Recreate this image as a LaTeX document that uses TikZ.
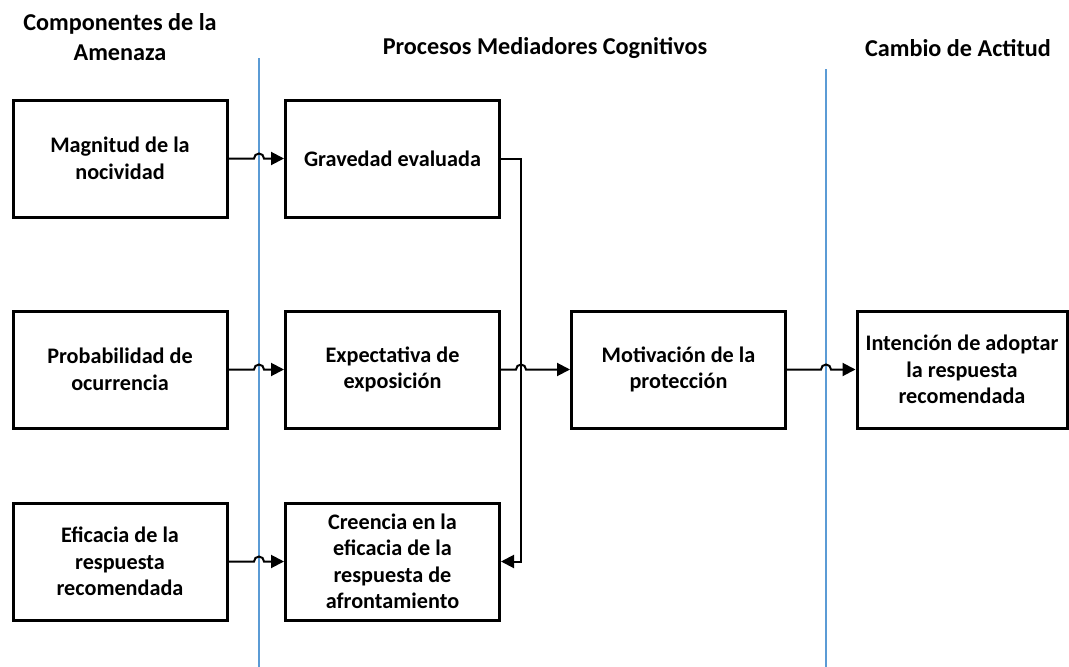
\documentclass[tikz,border=0pt]{standalone}
\usepackage{fontspec}
\setmainfont{Carlito}
\usetikzlibrary{arrows.meta,calc}
\begin{document}
\begin{tikzpicture}[x=1pt,y=-1pt,
  box/.style={draw=black,line width=3pt,minimum width=214pt,minimum height=117pt,inner sep=0pt,
    align=center,font=\fontsize{22.2}{26.5}\selectfont\bfseries},
  head/.style={align=center,font=\fontsize{24.2}{30}\selectfont\bfseries},
  conn/.style={draw=black,line width=2pt},
  arr/.style={conn,-{Triangle[length=13pt,width=13pt]}},
  sep/.style={line width=2pt,draw={rgb,255:red,91;green,155;blue,213}}]
\useasboundingbox (0,0) rectangle (1069,667);
% headers
\node[head] (h1) at (120,37) {Componentes de la\\Amenaza};
\node[head] (h2) at (545,48) {Procesos Mediadores Cognitivos};
\node[head] (h3) at (958,48) {Cambio de Actitud};
% separators
\coordinate (v1t) at (259,58);
\coordinate (v1b) at (259,667);
\coordinate (v2t) at (826,69);
\coordinate (v2b) at (826,667);
\draw[sep] (v1t) -- (v1b);
\draw[sep] (v2t) -- (v2b);
% boxes
\node[box] (mag) at (120,158.5) {Magnitud de la\\nocividad};
\node[box] (grav) at (392.5,158.5) {Gravedad evaluada};
\node[box] (prob) at (120,369.5) {Probabilidad de\\ocurrencia};
\node[box] (exp) at (392.5,369.5) {Expectativa de\\exposición};
\node[box] (mot) at (678.5,369.5) {Motivación de la\\protección};
\node[box,minimum width=210pt] (int) at (962,369.5) {Intención de adoptar\\la respuesta\\recomendada};
\node[box] (efi) at (120,561.5) {Eficacia de la\\respuesta\\recomendada};
\node[box] (cre) at (392.5,561.5) {Creencia en la\\eficacia de la\\respuesta de\\afrontamiento};
% junction line
\coordinate (j) at (521,158.5);
% connectors with hops
\draw[arr] (mag.east) -- ($(mag.east -| v1t)+(-5,0)$) arc[start angle=180,end angle=0,radius=5pt] -- (grav.west);
\draw[arr] (prob.east) -- ($(prob.east -| v1t)+(-5,0)$) arc[start angle=180,end angle=0,radius=5pt] -- (prob.east -| exp.west);
\draw[arr] (efi.east) -- ($(efi.east -| v1t)+(-5,0)$) arc[start angle=180,end angle=0,radius=5pt] -- (cre.west);
\draw[arr] (grav.east) -- (j) |- (cre.east);
\draw[arr] (exp.east) -- ($(exp.east -| j)+(-5,0)$) arc[start angle=180,end angle=0,radius=5pt] -- (mot.west);
\draw[arr] (mot.east) -- ($(mot.east -| v2t)+(-5,0)$) arc[start angle=180,end angle=0,radius=5pt] -- (int.west);
\end{tikzpicture}
\end{document}
